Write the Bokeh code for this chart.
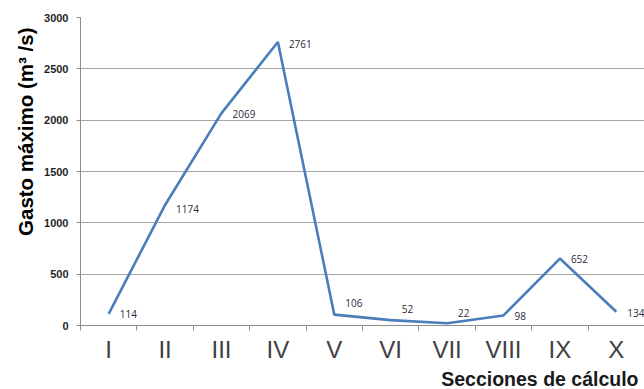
from bokeh.plotting import figure
from bokeh.models import Range1d, FixedTicker, Title, ColumnDataSource
from bokeh.core.properties import value
from bokeh.embed import file_html
from bokeh.resources import INLINE

categories = ["I", "II", "III", "IV", "V", "VI", "VII", "VIII", "IX", "X"]
gasto = [114, 1174, 2069, 2761, 106, 52, 22, 98, 652, 134]
label_dy = [0, 4, 1, 2, -12, -11, -10, 1, 0, 1]
y_ticks = [0, 500, 1000, 1500, 2000, 2500, 3000]

xs = [i + 0.5 for i in range(len(categories))]
src = ColumnDataSource(dict(x=xs, y=gasto, lbl=[str(v) for v in gasto], dy=label_dy))

p = figure(width=644, height=389, output_backend="svg", toolbar_location=None,
           x_range=Range1d(0, 10), y_range=Range1d(0, 3000),
           min_border_left=80, min_border_right=0, min_border_top=17, min_border_bottom=64)
p.outline_line_color = None
p.background_fill_color = "white"

p.line("x", "y", source=src, line_color="#4A7EBB", line_width=2.6)
p.text("x", "y", text="lbl", source=src, x_offset=11, y_offset="dy",
       text_align="left", text_baseline="middle", text_font_size="10px",
       text_color="#2e2a3a", text_font=value("Open Sans"))

xa = p.xaxis[0]
xa.ticker = FixedTicker(ticks=xs, minor_ticks=list(range(len(categories) + 1)))
xa.major_label_overrides = {x: c for x, c in zip(xs, categories)}
xa.major_tick_out = 0
xa.major_tick_in = 0
xa.minor_tick_out = 5
xa.minor_tick_in = 0
xa.minor_tick_line_color = "#8c8c8c"
xa.axis_line_color = "#8c8c8c"
xa.major_label_text_font = "Liberation Sans"
xa.major_label_text_font_size = "24px"
xa.major_label_text_color = "#404040"
xa.major_label_standoff = 5

ya = p.yaxis[0]
ya.ticker = FixedTicker(ticks=y_ticks)
ya.major_tick_out = 4
ya.major_tick_in = 0
ya.minor_tick_line_color = None
ya.major_tick_line_color = "#8c8c8c"
ya.axis_line_color = "#8c8c8c"
ya.major_label_text_font = "Liberation Sans"
ya.major_label_text_font_style = "bold"
ya.major_label_text_font_size = "11px"
ya.major_label_text_color = "#1f1f1f"
ya.major_label_standoff = 8

p.xgrid.grid_line_color = None
p.ygrid.grid_line_color = "#a6a6a6"
p.ygrid.grid_line_width = 1

p.add_layout(Title(text="Gasto máximo (m³ /s)", align="right", offset=10,
                   standoff=9, text_font="Liberation Sans", text_font_style="bold",
                   text_font_size="20.5px", text_color="#000000"), "left")
p.add_layout(Title(text="Secciones de cálculo", align="right", offset=6,
                   standoff=0, text_font="Liberation Sans", text_font_style="bold",
                   text_font_size="19.5px", text_color="#1a1a1a"), "below")

open("out.html", "w").write(file_html(p, INLINE))
